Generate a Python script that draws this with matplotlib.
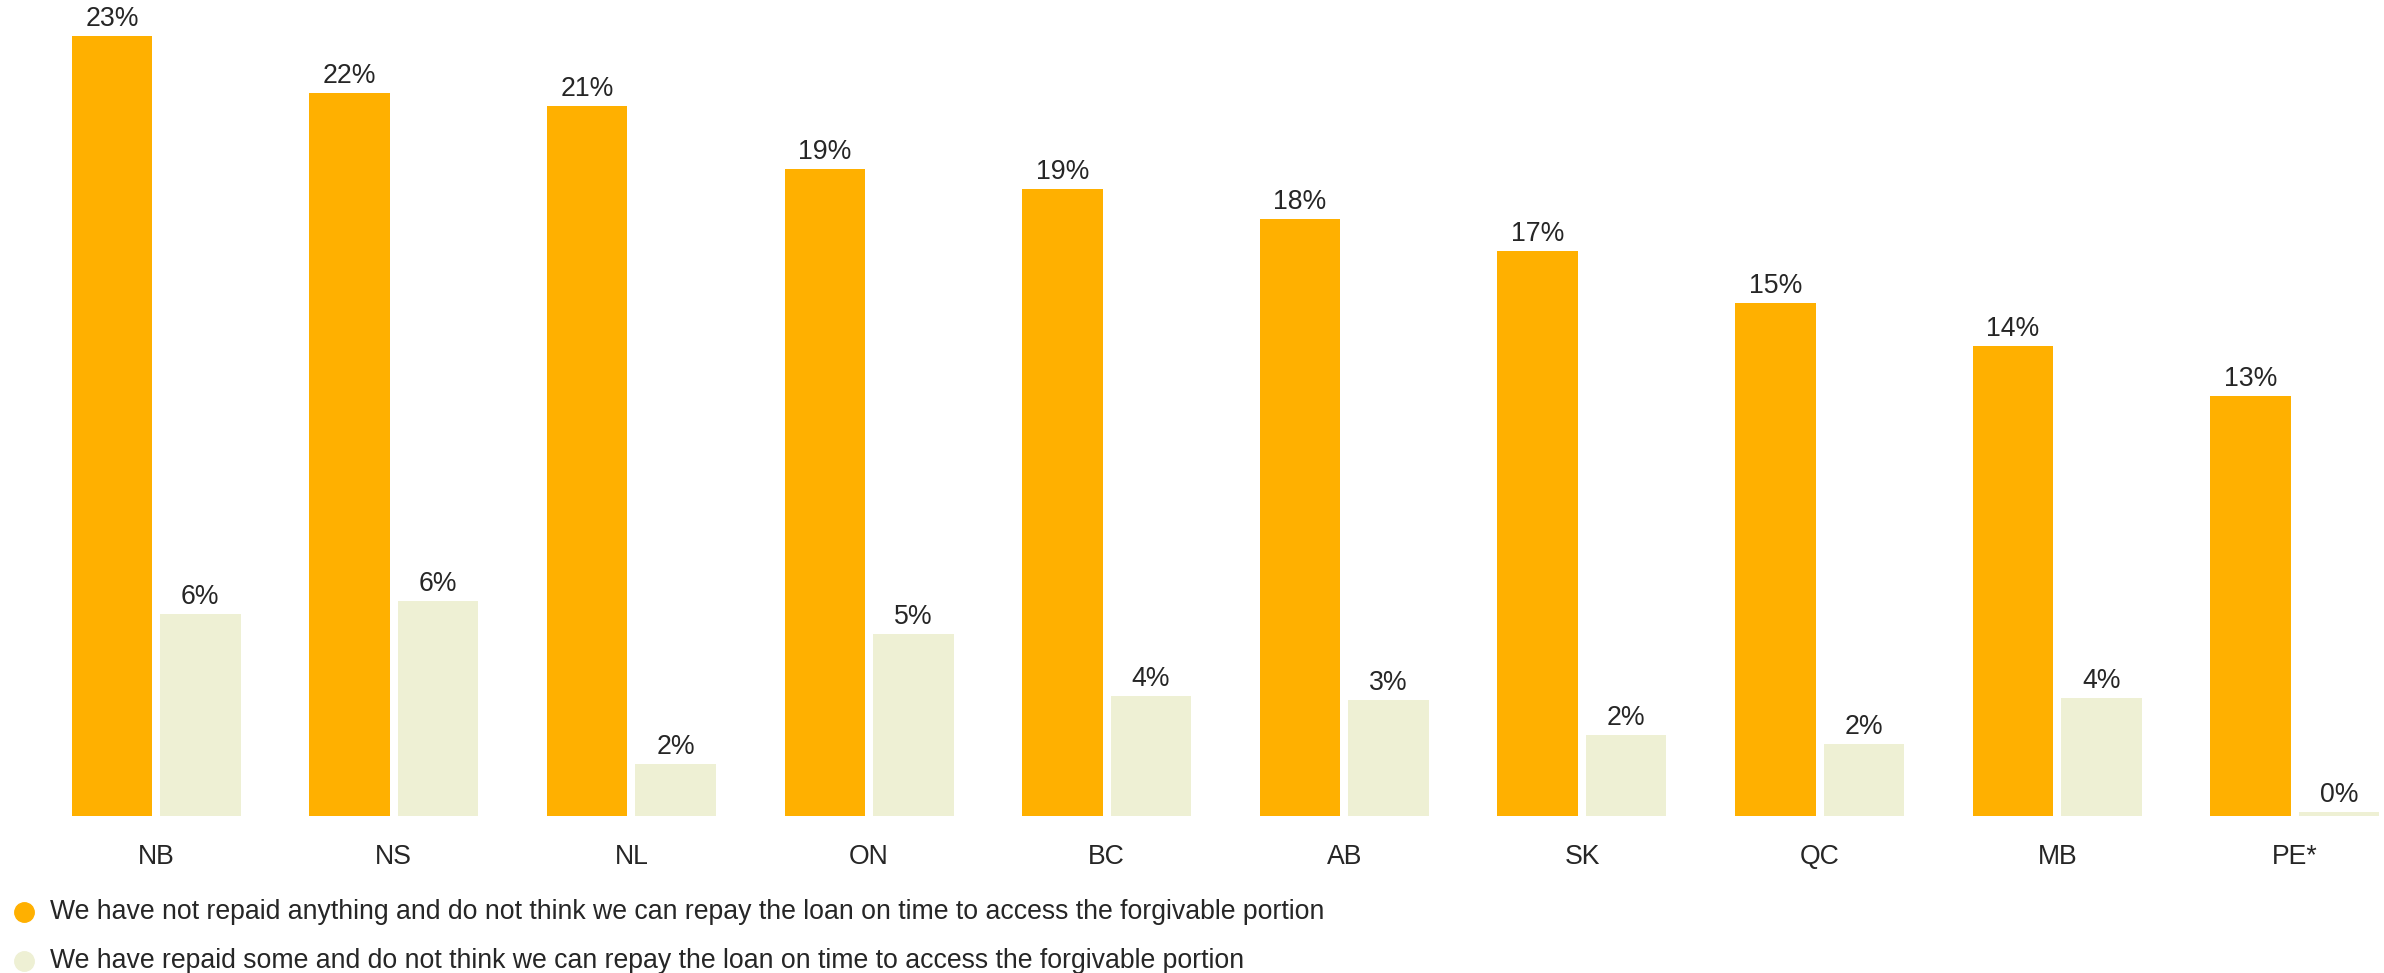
import matplotlib.pyplot as plt
from matplotlib.lines import Line2D

# provinces, share of respondents (%)
provinces = ["NB", "NS", "NL", "ON", "BC", "AB", "SK", "QC", "MB", "PE*"]
not_repaid = [23.4, 21.7, 21.3, 19.4, 18.8, 17.9, 16.95, 15.4, 14.1, 12.6]
repaid_some = [6.05, 6.45, 1.55, 5.45, 3.6, 3.48, 2.43, 2.16, 3.54, 0.12]
labels_not = ["23%", "22%", "21%", "19%", "19%", "18%", "17%", "15%", "14%", "13%"]
labels_some = ["6%", "6%", "2%", "5%", "4%", "3%", "2%", "2%", "4%", "0%"]

legend_labels = [
    "We have not repaid anything and do not think we can repay the loan on time to access the forgivable portion",
    "We have repaid some and do not think we can repay the loan on time to access the forgivable portion",
]

orange = "#FFB000"
pale = "#EEF0D4"
txt = "#262626"
fs = 19.2

plt.rcParams['font.family'] = ['Liberation Sans', 'DejaVu Sans']

W, H = 2384, 973
fig = plt.figure(figsize=(W / 100, H / 100), dpi=100)
ax = fig.add_axes([71.5 / W, (H - 816) / H, 2308 / W, 816 / H])

w = 0.339
off = 0.186
x = list(range(len(provinces)))
b1 = ax.bar([i - off for i in x], not_repaid, width=w, color=orange)
b2 = ax.bar([i + off for i in x], repaid_some, width=w, color=pale)

for bars, labs in ((b1, labels_not), (b2, labels_some)):
    for r, lab in zip(bars, labs):
        ax.annotate(lab, (r.get_x() + r.get_width() / 2, r.get_height()),
                    xytext=(0, 3), textcoords="offset points",
                    ha="center", va="bottom", fontsize=fs, color=txt)

ax.set_xlim(-0.356, 9.356)
ax.set_ylim(0, 816 / 33.33)
ax.axis("off")

# category labels
for i, p in zip(x, provinces):
    ax.text(i, -(857 - 816) / 816, p, transform=ax.get_xaxis_transform(),
            ha="center", va="center", fontsize=fs, color=txt)

# legend
for yy, col, lab in zip([912, 961], [orange, pale], legend_labels):
    fy = 1 - yy / H
    fig.add_artist(Line2D([24 / W], [fy], marker="o", markersize=14, color=col,
                          linestyle="none", transform=fig.transFigure))
    fig.text(50 / W, fy, lab, ha="left", va="center", fontsize=fs, color=txt)

fig.savefig("out.png", dpi=100)
